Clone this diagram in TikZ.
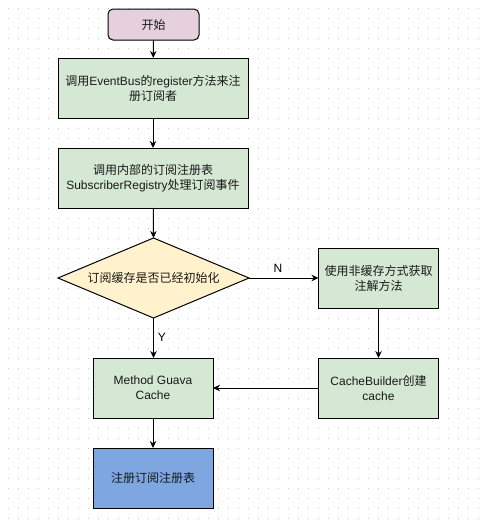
\documentclass[tikz,border=0pt]{standalone}
\usepackage{fontspec}
\setmainfont{Liberation Sans}
\newfontfamily\cjk{Noto Sans CJK SC}
\newcommand{\zh}[1]{{\cjk #1}}
\usetikzlibrary{arrows.meta,shapes.geometric}
\definecolor{startfill}{HTML}{E6D0DE}
\definecolor{greenfill}{HTML}{D5E8D4}
\definecolor{yellowfill}{HTML}{FFF2CC}
\definecolor{bluefill}{HTML}{7EA6E0}
\definecolor{griddot}{HTML}{C8C8C8}
\tikzset{
  base/.style={draw=black, line width=1pt, inner sep=0pt, outer sep=0pt, align=center, font=\fontsize{12}{15}\selectfont, text=black!90},
  startbox/.style={base, rounded corners=5pt, fill=startfill, minimum width=91pt, minimum height=31pt},
  procbox/.style={base, fill=greenfill, minimum width=190pt, minimum height=60pt},
  smallbox/.style={base, fill=greenfill, minimum width=120pt, minimum height=60pt},
  endbox/.style={base, fill=bluefill, minimum width=120pt, minimum height=60pt},
  decision/.style={base, diamond, aspect=2.4, fill=yellowfill, minimum width=191pt, minimum height=80pt},
  conn/.style={draw=black, line width=1pt, -{Stealth[length=7pt,width=6.5pt]}},
  lbl/.style={font=\fontsize{12}{14}\selectfont, inner sep=0pt}
}
\begin{document}
\begin{tikzpicture}[x=1pt,y=-1pt]
\useasboundingbox (0,0) rectangle (484,525);
\fill[white] (0,0) rectangle (484,525);
\foreach \i in {0,...,47}{
  \foreach \j in {0,...,51}{
    \fill[griddot] ({8+10*\i-0.5},{8+10*\j-0.5}) rectangle ++(1,1);
  }
}
\node[startbox] (start) at (153.5,24.5) {\zh{开始}};
\node[procbox] (reg) at (153,88) {\zh{调用}EventBus\zh{的}register\zh{方法来注}\\\zh{册订阅者}};
\node[procbox] (sub) at (153,178) {\zh{调用内部的订阅注册表}\\SubscriberRegistry\zh{处理订阅事件}};
\node[decision] (dec) at (153.5,278) {\zh{订阅缓存是否已经初始化}};
\node[smallbox] (nocache) at (378.5,278) {\zh{使用非缓存方式获取}\\\zh{注解方法}};
\node[smallbox] (builder) at (378.5,388) {CacheBuilder\zh{创建}\\cache};
\node[smallbox] (guava) at (153,388) {Method Guava\\Cache};
\node[endbox] (final) at (153,478) {\zh{注册订阅注册表}};
\draw[conn] (start) -- (reg);
\draw[conn] (reg) -- (sub);
\draw[conn] (sub) -- (dec.north);
\draw[conn] (dec.east) -- (nocache.west);
\draw[conn] (dec.south) -- (dec.south |- guava.north);
\draw[conn] (nocache) -- (builder);
\draw[conn] (builder) -- (guava);
\draw[conn] (guava) -- (final);
\node[lbl] (nlab) at (278,268) {N};
\node[lbl] (ylab) at (162,337) {Y};
\end{tikzpicture}
\end{document}
